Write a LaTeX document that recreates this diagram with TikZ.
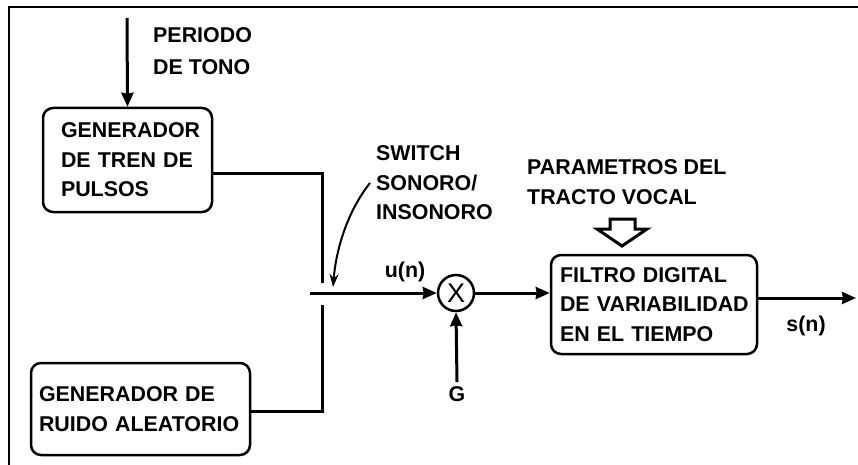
\documentclass[tikz,border=0pt]{standalone}
\usepackage{fontspec}
\setmainfont{Liberation Sans}
\usetikzlibrary{arrows.meta}
\begin{document}
\begin{tikzpicture}[x=1pt,y=-1pt,
  every node/.style={font=\fontsize{21.4}{29.5}\selectfont\bfseries},
  box/.style={draw,line width=2.5pt,rounded corners=10pt,align=left,inner ysep=0pt},
  lbl/.style={align=left,anchor=west,inner sep=0pt},
  wire/.style={line width=3pt},
  arr/.style={line width=3pt,-{Stealth[length=14pt,width=12pt,inset=1pt]}},
]
\useasboundingbox (0,0) rectangle (858,465);
% frame
\draw[line width=2pt] (9,465) -- (9,7) -- (858,7);

% blocks
\node[box,text width=133pt,inner xsep=18pt,minimum height=104pt] (b1) at (127.5,160) {\mbox{GENERADOR}\\\mbox{DE TREN DE}\\\mbox{PULSOS}};
\node[box,text width=203pt,inner xsep=8pt,minimum height=92pt] (b2) at (140.5,409) {\mbox{GENERADOR DE}\\\mbox{RUIDO ALEATORIO}};
\node[box,text width=188pt,inner xsep=9pt,minimum height=99pt] (b3) at (654,304.5) {\mbox{FILTRO DIGITAL}\\\mbox{DE VARIABILIDAD}\\\mbox{EN EL TIEMPO}};
\node[draw,circle,line width=2.5pt,minimum size=36pt,inner sep=0pt,font=\fontsize{27}{27}\selectfont] (mult) at (456,293) {X};

% labels
\node[lbl] (tper) at (153,51) {PERIODO\\[2pt]DE TONO};
\node[lbl] (tsw) at (376,183) {SWITCH\\SONORO/\\INSONORO};
\node[lbl] (tpar) at (527,182) {PARAMETROS DEL\\TRACTO VOCAL};
\node[inner sep=0pt] (tu) at (405,272) {u(n)};
\node[inner sep=0pt] (ts) at (806,326) {s(n)};
\node[inner sep=4pt] (G) at (457,394) {G};

% coordinates
\coordinate (ptop) at (127,18);
\coordinate (j1) at (322,283);
\coordinate (j2) at (322,305);
\coordinate (s0) at (310,293);
\coordinate (swa) at (370,183);
\coordinate (swb) at (333,287);
\coordinate (out) at (856,298);

% connectors
\draw[arr] (ptop) -- (b1.north);
\draw[wire] ([yshift=-13pt]b1.east) -| (j1);
\draw[wire] ([yshift=-2pt]b2.east) -| (j2);
\draw[arr] (s0) -- (mult.west);
\draw[line width=2pt,-{Stealth[length=13pt,width=9pt]}] (swa) .. controls (347,212) and (336,250) .. (swb);
\draw[arr] (G.north) -- (mult.south);
\draw[arr] (mult.east) -- (mult -| b3.west);
\draw[arr] ([yshift=6.5pt]b3.east) -- (out);

% hollow arrow (vocal tract parameters)
\draw[line width=3pt,line join=miter] (610,219) -- (635,219) -- (635,229) -- (647,229) -- (622,246) -- (597,229) -- (610,229) -- cycle;
\end{tikzpicture}
\end{document}
